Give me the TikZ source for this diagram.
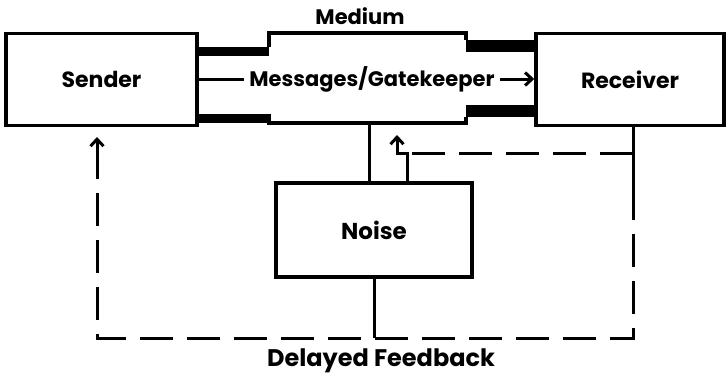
\documentclass[tikz,border=0pt]{standalone}
\usepackage{fontspec}
\setmainfont{Poppins}
\usetikzlibrary{arrows.meta,calc}
\tikzset{link/.style={draw,line width=3pt,color=black},
fb/.style={link,dash pattern=on 33pt off 14pt}}

\begin{document}
\begin{tikzpicture}[x=1pt,y=-1pt,>={Straight Barb[length=7pt,width=13pt]}]
\useasboundingbox (0,0) rectangle (727,381);
\begin{scope}[every node/.style={draw,rectangle,line width=3.5pt,inner sep=0pt,
font=\fontsize{22}{22}\selectfont\bfseries}]
\node[minimum width=191pt,minimum height=92pt] (s) at (101.5,79.5) {Sender};
\node[minimum width=188pt,minimum height=92pt] (r) at (630,79.5) {Receiver};
\node[minimum width=196pt,minimum height=94pt,font=\fontsize{23}{23}\selectfont\bfseries] (n) at (374,230) {Noise};
\end{scope}

% medium
\coordinate (ma) at (269,47);
\coordinate (mb) at (269,56);
\coordinate (mc) at (269,114);
\coordinate (md) at (269,123);
\coordinate (me) at (466,40);
\coordinate (mf) at (466,52);
\coordinate (mg) at (466,105);
\coordinate (mh) at (466,117);
\fill (s.east |- ma) rectangle (mb);
\fill (s.east |- mc) rectangle (md);
\fill (me) rectangle (r.west |- mf);
\fill (mg) rectangle (r.west |- mh);
\draw[link,line width=3.5pt] (ma) -- (269,33) -- (466,33) -- (me);
\draw[link,line width=3.5pt] (mc) -- (md) -- (466,123) -- (mh);

\node[font=\fontsize{21}{21}\selectfont\bfseries] (med) at (360,16) {Medium};
\node[font=\fontsize{21}{21}\selectfont\bfseries,inner sep=5pt] (msg) at (372,79) {Messages/Gatekeeper};
\draw[link] (s.east |- msg) -- (msg.west);
\draw[link,->] (msg.east) -- (r.west |- msg);

% noise
\coordinate (n1) at (369,123);
\coordinate (n2) at (407,153);
\coordinate (n3) at (397,135);
\draw[link] (n.north -| n1) -- (n1);
\draw[link,->] (n.north -| n2) -- (n2) -- (n3 |- n2) -- (n3);

% feedback
\coordinate (f1) at (633,187);
\coordinate (f2) at (633,338);
\coordinate (f3) at (97,338);
\coordinate (f4) at (97,173);
\coordinate (f5) at (97,137);
\draw[link] (r.south -| f1) -- (f1);
\draw[fb] (f1) -- (f2) -- (f3) -- (f4);
\draw[link,->] (f4) -- (f5);
\draw[fb] (f1 |- n2) -- (n2);
\draw[link] (n.south) -- (n.south |- f2);
\node[font=\fontsize{24}{24}\selectfont\bfseries] (dfb) at (381,361) {Delayed Feedback};
\end{tikzpicture}
\end{document}
